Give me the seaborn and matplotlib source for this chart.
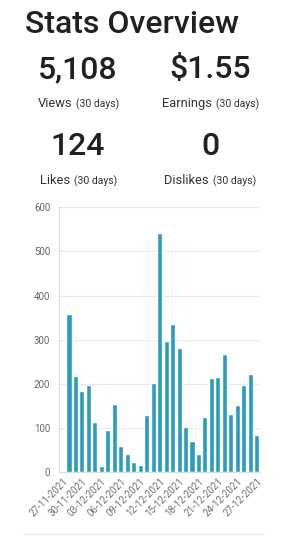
import matplotlib
matplotlib.use("Agg")
import matplotlib.pyplot as plt
import seaborn as sns
import pandas as pd
from matplotlib.lines import Line2D

# ---- data ----
dates = ["27-11-2021", "28-11-2021", "29-11-2021", "30-11-2021", "01-12-2021",
         "02-12-2021", "03-12-2021", "04-12-2021", "05-12-2021", "06-12-2021",
         "07-12-2021", "08-12-2021", "09-12-2021", "10-12-2021", "11-12-2021",
         "12-12-2021", "13-12-2021", "14-12-2021", "15-12-2021", "16-12-2021",
         "17-12-2021", "18-12-2021", "19-12-2021", "20-12-2021", "21-12-2021",
         "22-12-2021", "23-12-2021", "24-12-2021", "25-12-2021", "26-12-2021",
         "27-12-2021"]
views = [0, 358, 217, 183, 198, 115, 15, 96, 155, 60,
         42, 24, 17, 130, 203, 541, 297, 335, 281, 103,
         70, 41, 125, 213, 216, 268, 131, 152, 198, 223,
         85]
yticks = [0, 100, 200, 300, 400, 500, 600]

stat_values = ["5,108", "$1.55", "124", "0"]
stat_names = ["Views", "Earnings", "Likes", "Dislikes"]
stat_suffix = "(30 days)"
title = "Stats Overview"

# ---- figure ----
sns.set_style("white")
plt.rcParams["font.family"] = ["Roboto", "DejaVu Sans"]

W, H = 288, 558
fig = plt.figure(figsize=(W / 100, H / 100), dpi=100)

def fx(px):
    return px / W

def fy(py):
    return 1 - py / H

dark = "#212121"
fig.text(fx(25), fy(33), title, fontsize=23, fontweight="medium",
         color=dark, ha="left", va="baseline")

# stat numbers
num_pos = [(78, 78), (210, 78), (78, 155), (210, 155)]
for (x, y), v in zip(num_pos, stat_values):
    fig.text(fx(x), fy(y), v, fontsize=23, fontweight="medium",
             color=dark, ha="center", va="baseline")

# stat labels
lab_pos = [(72, 76, 107), (212, 216, 107), (70, 74, 184), (209, 213, 184)]
for (xr, xl, y), name in zip(lab_pos, stat_names):
    fig.text(fx(xr), fy(y), name, fontsize=9.3, color="#333333",
             ha="right", va="baseline")
    fig.text(fx(xl), fy(y), stat_suffix, fontsize=7.5, color="#333333",
             ha="left", va="baseline")

# chart
ax = fig.add_axes([fx(59.3), fy(472.3), fx(260) - fx(59.3), fy(207.3) - fy(472.3)])
df = pd.DataFrame({"date": dates, "views": views})
sns.barplot(data=df, x="date", y="views", color="#2b9cbc", saturation=1,
            width=0.78, ax=ax)
ax.set_ylim(0, 600)
ax.set_yticks(yticks)
ax.set_xlim(-0.5, len(dates) - 0.5)
ax.set_xticks(range(0, len(dates), 3))
ax.set_xticklabels(dates[::3], rotation=45, ha="right", rotation_mode="anchor")
ax.set_xlabel("")
ax.set_ylabel("")
ax.tick_params(axis="y", length=5, width=0.8, color="#dddddd", labelsize=7,
               labelcolor="#666666", pad=1.5)
ax.tick_params(axis="x", length=0, labelsize=7, labelcolor="#707070", pad=3)
ax.yaxis.grid(True, color="#e8e8e8", linewidth=0.8)
ax.set_axisbelow(True)
for s in ["top", "right"]:
    ax.spines[s].set_visible(False)
for s in ["left", "bottom"]:
    ax.spines[s].set_color("#dddddd")
    ax.spines[s].set_linewidth(0.8)

# separator line
fig.add_artist(Line2D([fx(24), fx(263)], [fy(534), fy(534)],
                      color="#e6e6e6", linewidth=1))

fig.savefig("out.png", dpi=100)
